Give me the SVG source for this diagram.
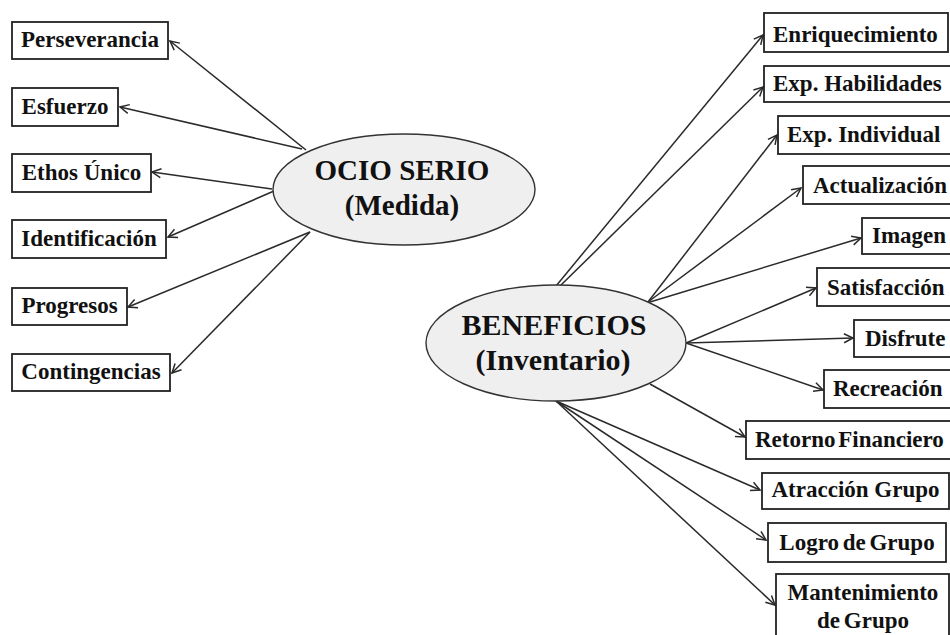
<svg xmlns="http://www.w3.org/2000/svg" width="950" height="635" viewBox="0 0 950 635">
<style>
.box{fill:#fff;stroke:#222;stroke-width:1.8}
.ell{fill:#efefef;stroke:#333;stroke-width:1.4}
.t{font-family:"Liberation Serif","Times New Roman",serif;font-weight:bold;font-size:23px;fill:#111}
.big{font-family:"Liberation Serif","Times New Roman",serif;font-weight:bold;fill:#111;text-anchor:middle}
.c{fill:none;stroke:#2a2a2a;stroke-width:1.5;marker-end:url(#arr)}
</style>
<defs>
<marker id="arr" viewBox="-11 -6 13 12" refX="0" refY="0" markerWidth="13" markerHeight="12" markerUnits="userSpaceOnUse" orient="auto">
<path d="M-9,-4.5 L0,0 L-9,4.5" fill="none" stroke="#2a2a2a" stroke-width="1.5"/>
</marker>
</defs>
<rect width="950" height="635" fill="#fff"/>
<g id="connectors">
<line class="c" x1="306" y1="150" x2="170" y2="41"/>
<line class="c" x1="302" y1="149" x2="120" y2="107"/>
<line class="c" x1="272" y1="189" x2="152" y2="172"/>
<line class="c" x1="274" y1="191" x2="168" y2="237"/>
<line class="c" x1="310" y1="232" x2="128" y2="307"/>
<line class="c" x1="310" y1="232" x2="172" y2="373"/>
<line class="c" x1="556" y1="286" x2="763" y2="35"/>
<line class="c" x1="560" y1="286" x2="763" y2="87"/>
<line class="c" x1="648" y1="302" x2="777" y2="135"/>
<line class="c" x1="648" y1="302" x2="801" y2="188"/>
<line class="c" x1="650" y1="302" x2="861" y2="238"/>
<line class="c" x1="686" y1="343" x2="816" y2="288"/>
<line class="c" x1="686" y1="343" x2="853" y2="338"/>
<line class="c" x1="686" y1="343" x2="823" y2="390"/>
<line class="c" x1="650" y1="384" x2="745" y2="437"/>
<line class="c" x1="556" y1="401" x2="760" y2="490"/>
<line class="c" x1="556" y1="401" x2="766" y2="540"/>
<line class="c" x1="556" y1="401" x2="775" y2="605"/>
</g>
<g id="ocio">
<ellipse class="ell" cx="404" cy="189.5" rx="131" ry="55.5"/>
<text class="big" x="402" y="180" font-size="29">OCIO SERIO</text>
<text class="big" x="402" y="215" font-size="29">(Medida)</text>
</g>
<g id="beneficios">
<ellipse class="ell" cx="556" cy="343" rx="130" ry="58"/>
<text class="big" x="554" y="335" font-size="30">BENEFICIOS</text>
<text class="big" x="553" y="370" font-size="30">(Inventario)</text>
</g>
<g id="perseverancia"><rect class="box" x="12" y="22" width="156" height="37"/><text class="t" x="90" y="47" text-anchor="middle">Perseverancia</text></g>
<g id="esfuerzo"><rect class="box" x="12" y="88" width="106" height="38"/><text class="t" x="65" y="114" text-anchor="middle">Esfuerzo</text></g>
<g id="ethos"><rect class="box" x="12" y="154" width="139" height="38"/><text class="t" x="81.5" y="180" text-anchor="middle">Ethos Único</text></g>
<g id="identificacion"><rect class="box" x="12" y="220" width="154" height="38"/><text class="t" x="89" y="246" text-anchor="middle">Identificación</text></g>
<g id="progresos"><rect class="box" x="12" y="288" width="115" height="37"/><text class="t" x="69.5" y="313" text-anchor="middle">Progresos</text></g>
<g id="contingencias"><rect class="box" x="12" y="354" width="158" height="37"/><text class="t" x="91" y="379" text-anchor="middle">Contingencias</text></g>
<g id="enriquecimiento"><rect class="box" x="764" y="13" width="184" height="39"/><text class="t" x="773" y="41.5">Enriquecimiento</text></g>
<g id="exp-habilidades"><rect class="box" x="764" y="66" width="200" height="36"/><text class="t" x="773" y="91">Exp. Habilidades</text></g>
<g id="exp-individual"><rect class="box" x="778" y="116" width="200" height="38"/><text class="t" x="787" y="142">Exp. Individual</text></g>
<g id="actualizacion"><rect class="box" x="803" y="166" width="200" height="38"/><text class="t" x="813" y="192.5">Actualización</text></g>
<g id="imagen"><rect class="box" x="862" y="218" width="100" height="36"/><text class="t" x="872" y="243">Imagen</text></g>
<g id="satisfaccion"><rect class="box" x="817" y="268" width="150" height="38"/><text class="t" x="827" y="295">Satisfacción</text></g>
<g id="disfrute"><rect class="box" x="854" y="320" width="110" height="37"/><text class="t" x="865" y="345.5">Disfrute</text></g>
<g id="recreacion"><rect class="box" x="824" y="370" width="140" height="38"/><text class="t" x="833" y="396">Recreación</text></g>
<g id="retorno"><rect class="box" x="746" y="421" width="220" height="38"/><text class="t" x="755" y="447" word-spacing="-3">Retorno Financiero</text></g>
<g id="atraccion"><rect class="box" x="762" y="473" width="187" height="36"/><text class="t" x="855.5" y="497" text-anchor="middle">Atracción Grupo</text></g>
<g id="logro"><rect class="box" x="768" y="523" width="178" height="39"/><text class="t" x="857" y="550" text-anchor="middle" word-spacing="-2">Logro de Grupo</text></g>
<g id="mantenimiento"><rect class="box" x="776" y="574" width="173" height="75"/><text class="t" x="863" y="599.5" text-anchor="middle">Mantenimiento</text><text class="t" x="863" y="627.5" text-anchor="middle" word-spacing="-2">de Grupo</text></g>
</svg>
